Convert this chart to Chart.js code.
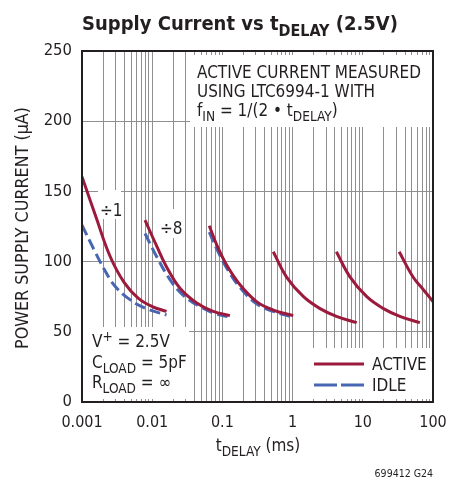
<!DOCTYPE html>
<html>
<head>
<meta charset="utf-8">
<script src="https://cdn.jsdelivr.net/npm/chart.js@4.4.1/dist/chart.umd.min.js"></script>
<style>
  html, body { margin: 0; padding: 0; background: #fff; }
  #wrap { width: 461px; height: 489px; }
</style>
</head>
<body>
<div id="wrap"><canvas id="chart" width="461" height="489"></canvas></div>
<script>
// x axis (tDELAY, ms) - log decades and their labels
const xDecades = [0.001, 0.01, 0.1, 1, 10, 100];
const xTickLabels = ['0.001', '0.01', '0.1', '1', '10', '100'];
const yTickValues = [0, 50, 100, 150, 200, 250];

// ACTIVE current (uA), one segment per divider setting
const activeT1 = [0.001, 0.0016, 0.0025, 0.004, 0.0063, 0.01, 0.016];
const activeI1 = [160.5, 131, 104, 85, 74, 68, 64.5];
const activeT8 = [0.0079, 0.0116, 0.0161, 0.0249, 0.0431, 0.0739, 0.128];
const activeI8 = [129.5, 111, 96, 81, 70.5, 64.5, 61.5];
const activeT64 = [0.065, 0.083, 0.115, 0.178, 0.307, 0.53, 1.02];
const activeI64 = [125.5, 112, 97.5, 83.5, 71.5, 65.5, 61.5];
const activeT512 = [0.53, 0.82, 1.43, 2.46, 4.21, 8.2];
const activeI512 = [107, 89, 75, 66.5, 61, 56.5];
const activeT4096 = [4.2, 6.6, 11.4, 19.7, 33.7, 65];
const activeI4096 = [107, 89, 75, 66.5, 61, 56.5];
const activeT32768 = [33, 52, 73, 100];
const activeI32768 = [107, 89, 80, 71.5];

// IDLE current (uA)
const idleT1 = [0.001, 0.0015, 0.0021, 0.0029, 0.0045, 0.0078, 0.016];
const idleI1 = [126, 108, 94, 83, 74, 67, 62];
const idleT8 = [0.0079, 0.0116, 0.018, 0.0277, 0.048, 0.0786, 0.128];
const idleI8 = [120, 103.5, 87, 76, 68, 63, 60.5];
const idleT64 = [0.065, 0.083, 0.115, 0.178, 0.307, 0.53, 1.0];
const idleI64 = [121, 109, 95.5, 81.5, 70, 64.5, 60.5];

const RED = '#9c1a3c';
const BLUE = '#4866b2';
const TEXT = '#231f20';
const GRID = '#8f8f8f';
const FONT = '"Liberation Sans Narrow", "DejaVu Sans Condensed", "Noto Sans", sans-serif';

function pts(t, v) { return t.map((x, i) => ({ x: x, y: v[i] })); }

function seg(t, v, idle) {
  return {
    data: pts(t, v),
    borderColor: idle ? BLUE : RED,
    borderWidth: 3,
    borderDash: idle ? [11, 5] : [],
    pointRadius: 0,
    tension: 0.4,
    order: idle ? 2 : 1
  };
}

// grid positions: 1..9 in every decade
const xGrid = [];
xDecades.slice(0, -1).forEach(d => {
  for (let m = 1; m < 10; m++) xGrid.push(+(d * m).toPrecision(3));
});
xGrid.push(100);

// draw text made of parts: [text] / [text,'sub'] / [text,'sup']
function richWidth(ctx, parts, size, weight) {
  let w = 0;
  parts.forEach(p => {
    ctx.font = `${weight} ${p[1] ? size * 0.8 : size}px ${FONT}`;
    w += ctx.measureText(p[0]).width;
  });
  return w;
}
function drawRich(ctx, parts, x, y, size, align, weight) {
  weight = weight || 'normal';
  const w = richWidth(ctx, parts, size, weight);
  let cx = align === 'center' ? x - w / 2 : align === 'right' ? x - w : x;
  ctx.fillStyle = TEXT;
  ctx.textAlign = 'left';
  ctx.textBaseline = 'alphabetic';
  parts.forEach(p => {
    ctx.font = `${weight} ${p[1] ? size * 0.8 : size}px ${FONT}`;
    const dy = p[1] === 'sub' ? size * 0.3 : p[1] === 'sup' ? -size * 0.38 : 0;
    ctx.fillText(p[0], cx, y + dy);
    cx += ctx.measureText(p[0]).width;
  });
}
function fit(ctx, parts, target, weight) {
  return 20 * target / richWidth(ctx, parts, 20, weight || 'normal');
}

const boxes = [
  [190, 55, 242, 72],   // measurement note
  [83, 327, 106, 72],   // conditions
  [313, 348, 119, 51],  // legend
  [98, 190, 23, 29],    // ÷1
  [158, 209, 23, 29]    // ÷8
];

const decor = {
  id: 'decor',
  beforeDatasetsDraw(chart) {
    const ctx = chart.ctx;
    ctx.save();
    ctx.fillStyle = '#fff';
    boxes.forEach(b => ctx.fillRect(b[0], b[1], b[2], b[3]));
    ctx.restore();
  },
  afterDatasetsDraw(chart) {
    const ctx = chart.ctx;
    const a = chart.chartArea;
    ctx.save();
    ctx.strokeStyle = TEXT;
    ctx.lineWidth = 2;
    ctx.strokeRect(a.left, a.top, a.right - a.left, a.bottom - a.top);

    // title
    const title = [['Supply Current vs t'], ['DELAY', 'sub'], [' (2.5V)']];
    drawRich(ctx, title, 240, 30, fit(ctx, title, 316, 'bold'), 'center', 'bold');

    // note
    const l1 = [['ACTIVE CURRENT MEASURED']];
    const s = fit(ctx, l1, 224);
    drawRich(ctx, l1, 197, 78, s);
    drawRich(ctx, [['USING LTC6994-1 WITH']], 197, 97, s);
    drawRich(ctx, [['f'], ['IN', 'sub'], [' = 1/(2 • t'], ['DELAY', 'sub'], [')']], 197, 116, s);

    // conditions
    drawRich(ctx, [['V'], ['+', 'sup'], [' = 2.5V']], 92, 347, s);
    drawRich(ctx, [['C'], ['LOAD', 'sub'], [' = 5pF']], 92, 368, s);
    drawRich(ctx, [['R'], ['LOAD', 'sub'], [' = ∞']], 92, 388, s);

    // divider labels
    drawRich(ctx, [['÷1']], 100, 216, s);
    drawRich(ctx, [['÷8']], 160, 234, s);

    // legend
    ctx.lineWidth = 3;
    ctx.strokeStyle = RED;
    ctx.beginPath(); ctx.moveTo(314, 364); ctx.lineTo(364, 364); ctx.stroke();
    ctx.strokeStyle = BLUE;
    ctx.setLineDash([23, 4]);
    ctx.beginPath(); ctx.moveTo(314, 385); ctx.lineTo(364, 385); ctx.stroke();
    ctx.setLineDash([]);
    drawRich(ctx, [['ACTIVE']], 372, 370, s);
    drawRich(ctx, [['IDLE']], 372, 391, s);

    // axis titles
    const xt = [['t'], ['DELAY', 'sub'], [' (ms)']];
    drawRich(ctx, xt, 258, 451, s, 'center');
    ctx.save();
    ctx.translate(28, 228);
    ctx.rotate(-Math.PI / 2);
    const yt = [['POWER SUPPLY CURRENT (µA)']];
    drawRich(ctx, yt, 0, 0, fit(ctx, yt, 242), 'center');
    ctx.restore();

    drawRich(ctx, [['699412 G24']], 433, 477, 10.5, 'right');
    ctx.restore();
  }
};

new Chart(document.getElementById('chart'), {
  type: 'line',
  data: {
    datasets: [
      seg(activeT1, activeI1), seg(activeT8, activeI8), seg(activeT64, activeI64),
      seg(activeT512, activeI512), seg(activeT4096, activeI4096), seg(activeT32768, activeI32768),
      seg(idleT1, idleI1, true), seg(idleT8, idleI8, true), seg(idleT64, idleI64, true)
    ]
  },
  options: {
    responsive: false,
    devicePixelRatio: 1,
    animation: false,
    layout: { padding: { top: 51, right: 28, left: 0, bottom: 0 } },
    plugins: { legend: { display: false }, tooltip: { enabled: false } },
    scales: {
      x: {
        type: 'logarithmic',
        min: 0.001,
        max: 100,
        afterBuildTicks: sc => { sc.ticks = xGrid.map(v => ({ value: v })); },
        afterFit: sc => { sc.height = 87; sc.paddingLeft = 0; sc.paddingRight = 0; },
        grid: { color: GRID, lineWidth: 1, drawTicks: false },
        border: { display: false },
        ticks: {
          autoSkip: false,
          maxRotation: 0,
          padding: 11,
          color: TEXT,
          font: { family: FONT, size: 16 },
          callback: v => {
            const i = xDecades.findIndex(d => Math.abs(v / d - 1) < 1e-6);
            return i >= 0 ? xTickLabels[i] : '';
          }
        }
      },
      y: {
        min: 0,
        max: 250,
        afterBuildTicks: sc => { sc.ticks = yTickValues.map(v => ({ value: v })); },
        afterFit: sc => { sc.width = 82; sc.paddingTop = 0; sc.paddingBottom = 0; },
        grid: { color: GRID, lineWidth: 1, drawTicks: false },
        border: { display: false },
        ticks: { padding: 10, color: TEXT, font: { family: FONT, size: 16.5 } }
      }
    }
  },
  plugins: [decor]
});
</script>
</body>
</html>
